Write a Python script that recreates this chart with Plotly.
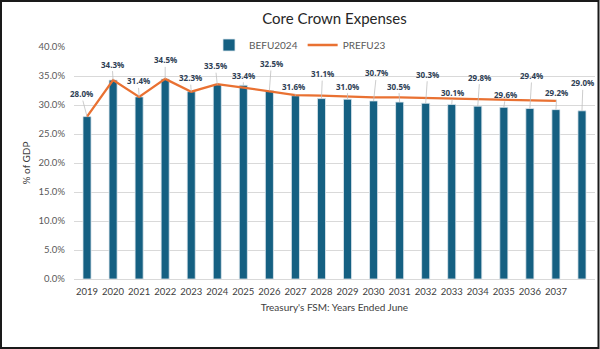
import plotly.graph_objects as go

years = [str(y) for y in range(2019, 2039)]
befu2024 = [28.0, 34.3, 31.4, 34.5, 32.3, 33.5, 33.4, 32.5, 31.6, 31.1,
            31.0, 30.7, 30.5, 30.3, 30.1, 29.8, 29.6, 29.4, 29.2, 29.0]
prefu23_years = [str(y) for y in range(2019, 2038)]
prefu23 = [28.0, 34.3, 31.4, 34.5, 32.3, 33.6, 33.0, 32.4, 31.7, 31.6,
           31.4, 31.3, 31.3, 31.2, 31.1, 31.0, 30.9, 30.8, 30.7]
tick_labels = [str(y) for y in range(2019, 2038)] + [""]
y_ticks = [0, 5, 10, 15, 20, 25, 30, 35, 40]

# label offsets (px) for the data-label leader lines
label_offsets = [(-6, -23), (-1, -16), (-1, -16), (0, -19), (-1, -14), (-2, -19),
                 (0, -10), (2, -27), (-2, -9), (1, -25), (0, -13), (3, -28),
                 (-1, -16), (2, -29), (1, -12), (2, -29), (2, -13), (2, -33),
                 (1, -17), (1, -28)]

W, H = 600, 349
ML, MR, MT, MB = 74, 5, 47, 70
PW, PH = W - ML - MR, H - MT - MB

fig = go.Figure()
fig.add_trace(go.Bar(
    x=years, y=befu2024, name="BEFU2024",
    marker=dict(color="#156082", line=dict(color="#dfe9ef", width=0.8)),
    width=0.31,
))
fig.add_trace(go.Scatter(
    x=prefu23_years, y=prefu23, name="PREFU23", mode="lines",
    line=dict(color="#E97132", width=2.3),
))

annotations = []
for i, (v, (ax, ay)) in enumerate(zip(befu2024, label_offsets)):
    annotations.append(dict(
        x=i, y=v, xref="x", yref="y", text=f"<b>{v:.1f}%</b>",
        showarrow=True, arrowhead=0, arrowwidth=0.8, arrowcolor="#BFBFBF",
        ax=ax, ay=ay, standoff=0,
        font=dict(family="Open Sans, sans-serif", size=8, color="#2E3E55"),
    ))

def px_to_paper_x(px):
    return (px - ML) / PW

def px_to_paper_y(py):
    return (H - MB - py) / PH

fig.update_layout(
    width=W, height=H,
    margin=dict(l=ML, r=MR, t=MT, b=MB),
    paper_bgcolor="white", plot_bgcolor="white",
    font=dict(family="Lato, Open Sans, sans-serif", color="#595959"),
    title=dict(text="Core Crown Expenses", x=0.5, xref="paper", xanchor="center",
               y=1 - 19 / H, yanchor="middle",
               font=dict(size=15, color="#262626")),
    showlegend=True,
    legend=dict(orientation="h", x=px_to_paper_x(300), xanchor="center",
                y=px_to_paper_y(45), yanchor="middle",
                font=dict(size=10, color="#595959"), bgcolor="rgba(0,0,0,0)",
                itemwidth=30, tracegroupgap=0),
    bargap=0.69,
    annotations=annotations,
    shapes=[dict(type="rect", xref="paper", yref="paper",
                 x0=px_to_paper_x(1), x1=px_to_paper_x(598.5),
                 y0=px_to_paper_y(348), y1=px_to_paper_y(1),
                 line=dict(color="#1a1a1a", width=2), layer="above")],
)
fig.update_xaxes(
    type="category", tickvals=years, ticktext=tick_labels,
    showgrid=False, showline=True, linecolor="#D9D9D9", linewidth=1,
    tickfont=dict(size=9.5, color="#404040"), ticklabelstandoff=4,
    title=dict(text="Treasury's FSM: Years Ended June", font=dict(size=10, color="#404040"),
               standoff=7),
    range=[-0.5, 19.5], fixedrange=True,
)
fig.update_yaxes(
    range=[0, 40], tickvals=y_ticks, ticktext=[f"{t:.1f}%" for t in y_ticks],
    showgrid=True, gridcolor="#D9D9D9", gridwidth=1, zeroline=False,
    tickfont=dict(size=9.5, color="#595959"), ticklabelstandoff=8,
    title=dict(text="% of GDP", font=dict(size=10, color="#404040"), standoff=6),
    fixedrange=True,
)

fig.write_html("out.html", config={"displayModeBar": False})
